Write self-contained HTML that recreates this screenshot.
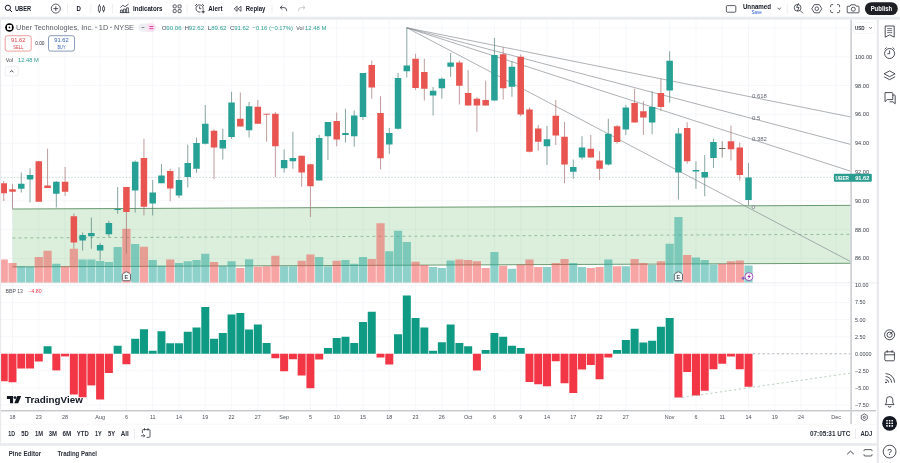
<!DOCTYPE html>
<html lang="en"><head><meta charset="utf-8"><title>UBER chart</title>
<style>
html,body{margin:0;padding:0;background:#fff;}
body{width:900px;height:463px;overflow:hidden;font-family:"Liberation Sans", sans-serif;}
</style></head>
<body>
<svg width="900" height="463" viewBox="0 0 900 463" font-family='"Liberation Sans", sans-serif' style="display:block">
<rect x="0" y="0" width="900" height="463" fill="#ffffff"/>
<g id="chart">
<line x1="1" x2="851" y1="27.92" y2="27.92" stroke="#f0f2f6" stroke-width="0.6"/>
<line x1="1" x2="851" y1="56.74" y2="56.74" stroke="#f0f2f6" stroke-width="0.6"/>
<line x1="1" x2="851" y1="85.56" y2="85.56" stroke="#f0f2f6" stroke-width="0.6"/>
<line x1="1" x2="851" y1="114.38" y2="114.38" stroke="#f0f2f6" stroke-width="0.6"/>
<line x1="1" x2="851" y1="143.20" y2="143.20" stroke="#f0f2f6" stroke-width="0.6"/>
<line x1="1" x2="851" y1="172.02" y2="172.02" stroke="#f0f2f6" stroke-width="0.6"/>
<line x1="1" x2="851" y1="200.84" y2="200.84" stroke="#f0f2f6" stroke-width="0.6"/>
<line x1="1" x2="851" y1="229.66" y2="229.66" stroke="#f0f2f6" stroke-width="0.6"/>
<line x1="1" x2="851" y1="258.48" y2="258.48" stroke="#f0f2f6" stroke-width="0.6"/>
<line x1="1" x2="851" y1="285.50" y2="285.50" stroke="#f0f2f6" stroke-width="0.6"/>
<line x1="1" x2="851" y1="302.56" y2="302.56" stroke="#f0f2f6" stroke-width="0.6"/>
<line x1="1" x2="851" y1="319.62" y2="319.62" stroke="#f0f2f6" stroke-width="0.6"/>
<line x1="1" x2="851" y1="336.69" y2="336.69" stroke="#f0f2f6" stroke-width="0.6"/>
<line x1="1" x2="851" y1="353.75" y2="353.75" stroke="#f0f2f6" stroke-width="0.6"/>
<line x1="1" x2="851" y1="370.81" y2="370.81" stroke="#f0f2f6" stroke-width="0.6"/>
<line x1="1" x2="851" y1="387.88" y2="387.88" stroke="#f0f2f6" stroke-width="0.6"/>
<line x1="1" x2="851" y1="404.94" y2="404.94" stroke="#f0f2f6" stroke-width="0.6"/>
<line x1="12.512" x2="12.512" y1="19.5" y2="410.7" stroke="#f0f2f6" stroke-width="0.6"/>
<line x1="38.798" x2="38.798" y1="19.5" y2="410.7" stroke="#f0f2f6" stroke-width="0.6"/>
<line x1="65.084" x2="65.084" y1="19.5" y2="410.7" stroke="#f0f2f6" stroke-width="0.6"/>
<line x1="100.132" x2="100.132" y1="19.5" y2="410.7" stroke="#f0f2f6" stroke-width="0.6"/>
<line x1="126.418" x2="126.418" y1="19.5" y2="410.7" stroke="#f0f2f6" stroke-width="0.6"/>
<line x1="152.704" x2="152.704" y1="19.5" y2="410.7" stroke="#f0f2f6" stroke-width="0.6"/>
<line x1="178.99" x2="178.99" y1="19.5" y2="410.7" stroke="#f0f2f6" stroke-width="0.6"/>
<line x1="205.276" x2="205.276" y1="19.5" y2="410.7" stroke="#f0f2f6" stroke-width="0.6"/>
<line x1="231.562" x2="231.562" y1="19.5" y2="410.7" stroke="#f0f2f6" stroke-width="0.6"/>
<line x1="257.848" x2="257.848" y1="19.5" y2="410.7" stroke="#f0f2f6" stroke-width="0.6"/>
<line x1="284.134" x2="284.134" y1="19.5" y2="410.7" stroke="#f0f2f6" stroke-width="0.6"/>
<line x1="310.42" x2="310.42" y1="19.5" y2="410.7" stroke="#f0f2f6" stroke-width="0.6"/>
<line x1="336.706" x2="336.706" y1="19.5" y2="410.7" stroke="#f0f2f6" stroke-width="0.6"/>
<line x1="362.992" x2="362.992" y1="19.5" y2="410.7" stroke="#f0f2f6" stroke-width="0.6"/>
<line x1="389.278" x2="389.278" y1="19.5" y2="410.7" stroke="#f0f2f6" stroke-width="0.6"/>
<line x1="415.564" x2="415.564" y1="19.5" y2="410.7" stroke="#f0f2f6" stroke-width="0.6"/>
<line x1="441.85" x2="441.85" y1="19.5" y2="410.7" stroke="#f0f2f6" stroke-width="0.6"/>
<line x1="468.136" x2="468.136" y1="19.5" y2="410.7" stroke="#f0f2f6" stroke-width="0.6"/>
<line x1="494.422" x2="494.422" y1="19.5" y2="410.7" stroke="#f0f2f6" stroke-width="0.6"/>
<line x1="520.7080000000001" x2="520.7080000000001" y1="19.5" y2="410.7" stroke="#f0f2f6" stroke-width="0.6"/>
<line x1="546.994" x2="546.994" y1="19.5" y2="410.7" stroke="#f0f2f6" stroke-width="0.6"/>
<line x1="573.28" x2="573.28" y1="19.5" y2="410.7" stroke="#f0f2f6" stroke-width="0.6"/>
<line x1="599.566" x2="599.566" y1="19.5" y2="410.7" stroke="#f0f2f6" stroke-width="0.6"/>
<line x1="625.8520000000001" x2="625.8520000000001" y1="19.5" y2="410.7" stroke="#f0f2f6" stroke-width="0.6"/>
<line x1="669.662" x2="669.662" y1="19.5" y2="410.7" stroke="#f0f2f6" stroke-width="0.6"/>
<line x1="695.9480000000001" x2="695.9480000000001" y1="19.5" y2="410.7" stroke="#f0f2f6" stroke-width="0.6"/>
<line x1="722.234" x2="722.234" y1="19.5" y2="410.7" stroke="#f0f2f6" stroke-width="0.6"/>
<line x1="748.52" x2="748.52" y1="19.5" y2="410.7" stroke="#f0f2f6" stroke-width="0.6"/>
<line x1="774.806" x2="774.806" y1="19.5" y2="410.7" stroke="#f0f2f6" stroke-width="0.6"/>
<line x1="801.0920000000001" x2="801.0920000000001" y1="19.5" y2="410.7" stroke="#f0f2f6" stroke-width="0.6"/>
<line x1="836.1400000000001" x2="836.1400000000001" y1="19.5" y2="410.7" stroke="#f0f2f6" stroke-width="0.6"/>
<polygon points="12.5,209.0 851,205.35 851,263.25 12.5,266.9" fill="#4caf50" fill-opacity="0.2"/>
<line x1="12.5" y1="209.0" x2="851" y2="205.35" stroke="#5c8f63" stroke-width="0.9"/>
<line x1="12.5" y1="266.9" x2="851" y2="263.25" stroke="#5c8f63" stroke-width="0.9"/>
<line x1="12.5" y1="237.95" x2="851" y2="234.3" stroke="#7fae84" stroke-width="0.8" stroke-dasharray="2.8 3.2"/>
<rect x="-0.35" y="259.5" width="8.2" height="23.30" fill="#ef5350" fill-opacity="0.52"/>
<rect x="8.41" y="263" width="8.2" height="19.80" fill="#ef5350" fill-opacity="0.52"/>
<rect x="17.17" y="266.25" width="8.2" height="16.55" fill="#26a69a" fill-opacity="0.52"/>
<rect x="25.94" y="266.75" width="8.2" height="16.05" fill="#26a69a" fill-opacity="0.52"/>
<rect x="34.70" y="257" width="8.2" height="25.80" fill="#ef5350" fill-opacity="0.52"/>
<rect x="43.46" y="250.75" width="8.2" height="32.05" fill="#ef5350" fill-opacity="0.52"/>
<rect x="52.22" y="263.75" width="8.2" height="19.05" fill="#26a69a" fill-opacity="0.52"/>
<rect x="60.98" y="266.25" width="8.2" height="16.55" fill="#ef5350" fill-opacity="0.52"/>
<rect x="69.75" y="248.75" width="8.2" height="34.05" fill="#ef5350" fill-opacity="0.52"/>
<rect x="78.51" y="259.5" width="8.2" height="23.30" fill="#26a69a" fill-opacity="0.52"/>
<rect x="87.27" y="259.5" width="8.2" height="23.30" fill="#26a69a" fill-opacity="0.52"/>
<rect x="96.03" y="261" width="8.2" height="21.80" fill="#26a69a" fill-opacity="0.52"/>
<rect x="104.79" y="262" width="8.2" height="20.80" fill="#26a69a" fill-opacity="0.52"/>
<rect x="113.56" y="247" width="8.2" height="35.80" fill="#26a69a" fill-opacity="0.52"/>
<rect x="122.32" y="228.75" width="8.2" height="54.05" fill="#ef5350" fill-opacity="0.52"/>
<rect x="131.08" y="244" width="8.2" height="38.80" fill="#26a69a" fill-opacity="0.52"/>
<rect x="139.84" y="246.75" width="8.2" height="36.05" fill="#ef5350" fill-opacity="0.52"/>
<rect x="148.60" y="260" width="8.2" height="22.80" fill="#26a69a" fill-opacity="0.52"/>
<rect x="157.37" y="265.75" width="8.2" height="17.05" fill="#26a69a" fill-opacity="0.52"/>
<rect x="166.13" y="259.5" width="8.2" height="23.30" fill="#ef5350" fill-opacity="0.52"/>
<rect x="174.89" y="263" width="8.2" height="19.80" fill="#26a69a" fill-opacity="0.52"/>
<rect x="183.65" y="261.25" width="8.2" height="21.55" fill="#26a69a" fill-opacity="0.52"/>
<rect x="192.41" y="260" width="8.2" height="22.80" fill="#26a69a" fill-opacity="0.52"/>
<rect x="201.18" y="253.75" width="8.2" height="29.05" fill="#26a69a" fill-opacity="0.52"/>
<rect x="209.94" y="262" width="8.2" height="20.80" fill="#ef5350" fill-opacity="0.52"/>
<rect x="218.70" y="265.75" width="8.2" height="17.05" fill="#26a69a" fill-opacity="0.52"/>
<rect x="227.46" y="261.25" width="8.2" height="21.55" fill="#26a69a" fill-opacity="0.52"/>
<rect x="236.22" y="268" width="8.2" height="14.80" fill="#ef5350" fill-opacity="0.52"/>
<rect x="244.99" y="259.25" width="8.2" height="23.55" fill="#26a69a" fill-opacity="0.52"/>
<rect x="253.75" y="266.75" width="8.2" height="16.05" fill="#ef5350" fill-opacity="0.52"/>
<rect x="262.51" y="266.25" width="8.2" height="16.55" fill="#ef5350" fill-opacity="0.52"/>
<rect x="271.27" y="255.75" width="8.2" height="27.05" fill="#ef5350" fill-opacity="0.52"/>
<rect x="280.03" y="266.25" width="8.2" height="16.55" fill="#26a69a" fill-opacity="0.52"/>
<rect x="288.80" y="266.25" width="8.2" height="16.55" fill="#26a69a" fill-opacity="0.52"/>
<rect x="297.56" y="260.75" width="8.2" height="22.05" fill="#ef5350" fill-opacity="0.52"/>
<rect x="306.32" y="254.5" width="8.2" height="28.30" fill="#ef5350" fill-opacity="0.52"/>
<rect x="315.08" y="257" width="8.2" height="25.80" fill="#26a69a" fill-opacity="0.52"/>
<rect x="323.84" y="266.25" width="8.2" height="16.55" fill="#26a69a" fill-opacity="0.52"/>
<rect x="332.61" y="260.75" width="8.2" height="22.05" fill="#ef5350" fill-opacity="0.52"/>
<rect x="341.37" y="260" width="8.2" height="22.80" fill="#26a69a" fill-opacity="0.52"/>
<rect x="350.13" y="263.75" width="8.2" height="19.05" fill="#26a69a" fill-opacity="0.52"/>
<rect x="358.89" y="257" width="8.2" height="25.80" fill="#26a69a" fill-opacity="0.52"/>
<rect x="367.65" y="259" width="8.2" height="23.80" fill="#ef5350" fill-opacity="0.52"/>
<rect x="376.42" y="223.25" width="8.2" height="59.55" fill="#ef5350" fill-opacity="0.52"/>
<rect x="385.18" y="251.25" width="8.2" height="31.55" fill="#26a69a" fill-opacity="0.52"/>
<rect x="393.94" y="230.75" width="8.2" height="52.05" fill="#26a69a" fill-opacity="0.52"/>
<rect x="402.70" y="242" width="8.2" height="40.80" fill="#26a69a" fill-opacity="0.52"/>
<rect x="411.46" y="261.75" width="8.2" height="21.05" fill="#ef5350" fill-opacity="0.52"/>
<rect x="420.23" y="265" width="8.2" height="17.80" fill="#ef5350" fill-opacity="0.52"/>
<rect x="428.99" y="267" width="8.2" height="15.80" fill="#26a69a" fill-opacity="0.52"/>
<rect x="437.75" y="268" width="8.2" height="14.80" fill="#26a69a" fill-opacity="0.52"/>
<rect x="446.51" y="260.5" width="8.2" height="22.30" fill="#26a69a" fill-opacity="0.52"/>
<rect x="455.27" y="259.5" width="8.2" height="23.30" fill="#ef5350" fill-opacity="0.52"/>
<rect x="464.04" y="260" width="8.2" height="22.80" fill="#ef5350" fill-opacity="0.52"/>
<rect x="472.80" y="261.25" width="8.2" height="21.55" fill="#ef5350" fill-opacity="0.52"/>
<rect x="481.56" y="268" width="8.2" height="14.80" fill="#ef5350" fill-opacity="0.52"/>
<rect x="490.32" y="252" width="8.2" height="30.80" fill="#26a69a" fill-opacity="0.52"/>
<rect x="499.08" y="265.75" width="8.2" height="17.05" fill="#ef5350" fill-opacity="0.52"/>
<rect x="507.85" y="268.75" width="8.2" height="14.05" fill="#26a69a" fill-opacity="0.52"/>
<rect x="516.61" y="264.5" width="8.2" height="18.30" fill="#ef5350" fill-opacity="0.52"/>
<rect x="525.37" y="259.5" width="8.2" height="23.30" fill="#ef5350" fill-opacity="0.52"/>
<rect x="534.13" y="267" width="8.2" height="15.80" fill="#ef5350" fill-opacity="0.52"/>
<rect x="542.89" y="267" width="8.2" height="15.80" fill="#26a69a" fill-opacity="0.52"/>
<rect x="551.66" y="263" width="8.2" height="19.80" fill="#ef5350" fill-opacity="0.52"/>
<rect x="560.42" y="259" width="8.2" height="23.80" fill="#ef5350" fill-opacity="0.52"/>
<rect x="569.18" y="263" width="8.2" height="19.80" fill="#26a69a" fill-opacity="0.52"/>
<rect x="577.94" y="267" width="8.2" height="15.80" fill="#26a69a" fill-opacity="0.52"/>
<rect x="586.70" y="268" width="8.2" height="14.80" fill="#ef5350" fill-opacity="0.52"/>
<rect x="595.47" y="267" width="8.2" height="15.80" fill="#ef5350" fill-opacity="0.52"/>
<rect x="604.23" y="259.5" width="8.2" height="23.30" fill="#26a69a" fill-opacity="0.52"/>
<rect x="612.99" y="266.25" width="8.2" height="16.55" fill="#ef5350" fill-opacity="0.52"/>
<rect x="621.75" y="266.25" width="8.2" height="16.55" fill="#26a69a" fill-opacity="0.52"/>
<rect x="630.51" y="259" width="8.2" height="23.80" fill="#ef5350" fill-opacity="0.52"/>
<rect x="639.28" y="263" width="8.2" height="19.80" fill="#ef5350" fill-opacity="0.52"/>
<rect x="648.04" y="265" width="8.2" height="17.80" fill="#26a69a" fill-opacity="0.52"/>
<rect x="656.80" y="261.25" width="8.2" height="21.55" fill="#ef5350" fill-opacity="0.52"/>
<rect x="665.56" y="243.75" width="8.2" height="39.05" fill="#26a69a" fill-opacity="0.52"/>
<rect x="674.32" y="217" width="8.2" height="65.80" fill="#26a69a" fill-opacity="0.52"/>
<rect x="683.09" y="255" width="8.2" height="27.80" fill="#ef5350" fill-opacity="0.52"/>
<rect x="691.85" y="257.5" width="8.2" height="25.30" fill="#26a69a" fill-opacity="0.52"/>
<rect x="700.61" y="260" width="8.2" height="22.80" fill="#26a69a" fill-opacity="0.52"/>
<rect x="709.37" y="264.5" width="8.2" height="18.30" fill="#26a69a" fill-opacity="0.52"/>
<rect x="718.13" y="263.75" width="8.2" height="19.05" fill="#ef5350" fill-opacity="0.52"/>
<rect x="726.90" y="261.25" width="8.2" height="21.55" fill="#ef5350" fill-opacity="0.52"/>
<rect x="735.66" y="260.5" width="8.2" height="22.30" fill="#ef5350" fill-opacity="0.52"/>
<rect x="744.42" y="265.5" width="8.2" height="17.30" fill="#26a69a" fill-opacity="0.52"/>
<line x1="1" x2="851" y1="177.4" y2="177.4" stroke="#a3bdba" stroke-width="0.7" stroke-dasharray="1.3 1.9"/>
<line x1="406.9" y1="27.8" x2="851" y2="117.0" stroke="#82868d" stroke-width="0.65"/>
<line x1="406.9" y1="27.8" x2="851" y2="144.5" stroke="#82868d" stroke-width="0.65"/>
<line x1="406.9" y1="27.8" x2="851" y2="171.3" stroke="#82868d" stroke-width="0.65"/>
<line x1="406.9" y1="27.8" x2="851" y2="261.8" stroke="#82868d" stroke-width="0.65"/>
<text x="751.9" y="98.43" font-size="6" font-weight="normal" fill="#62656f" text-anchor="start" >0.618</text>
<text x="751.9" y="119.93" font-size="6" font-weight="normal" fill="#62656f" text-anchor="start" >0.5</text>
<text x="751.9" y="140.73" font-size="6" font-weight="normal" fill="#62656f" text-anchor="start" >0.382</text>
<circle cx="753.4" cy="207.2" r="1.35" fill="#fff" stroke="#50535e" stroke-width="0.6"/>
<line x1="3.75" x2="3.75" y1="181.0" y2="201.0" stroke="#a57371" stroke-width="0.7"/>
<rect x="0.50" y="183.25" width="6.5" height="10.00" fill="#e85450"/>
<line x1="12.512" x2="12.512" y1="183.75" y2="208.75" stroke="#a57371" stroke-width="0.7"/>
<rect x="9.26" y="189.25" width="6.5" height="2.50" fill="#e85450"/>
<line x1="21.274" x2="21.274" y1="172.5" y2="192.5" stroke="#557f7a" stroke-width="0.7"/>
<rect x="18.02" y="183.75" width="6.5" height="5.00" fill="#27a195"/>
<line x1="30.036" x2="30.036" y1="168.25" y2="202.5" stroke="#557f7a" stroke-width="0.7"/>
<rect x="26.79" y="175.0" width="6.5" height="4.50" fill="#27a195"/>
<line x1="38.798" x2="38.798" y1="161.25" y2="201.75" stroke="#a57371" stroke-width="0.7"/>
<rect x="35.55" y="161.25" width="6.5" height="40.50" fill="#e85450"/>
<line x1="47.56" x2="47.56" y1="148.75" y2="188.0" stroke="#a57371" stroke-width="0.7"/>
<rect x="44.31" y="185.5" width="6.5" height="2.50" fill="#e85450"/>
<line x1="56.322" x2="56.322" y1="181.0" y2="207.5" stroke="#557f7a" stroke-width="0.7"/>
<rect x="53.07" y="181.75" width="6.5" height="12.00" fill="#27a195"/>
<line x1="65.084" x2="65.084" y1="167.0" y2="196.0" stroke="#a57371" stroke-width="0.7"/>
<rect x="61.83" y="181.75" width="6.5" height="10.00" fill="#e85450"/>
<line x1="73.846" x2="73.846" y1="213.5" y2="248.75" stroke="#a57371" stroke-width="0.7"/>
<rect x="70.60" y="216.25" width="6.5" height="26.25" fill="#e85450"/>
<line x1="82.608" x2="82.608" y1="232.5" y2="250.5" stroke="#557f7a" stroke-width="0.7"/>
<rect x="79.36" y="235.0" width="6.5" height="5.50" fill="#27a195"/>
<line x1="91.37" x2="91.37" y1="217.5" y2="248.75" stroke="#557f7a" stroke-width="0.7"/>
<rect x="88.12" y="233.0" width="6.5" height="3.25" fill="#27a195"/>
<line x1="100.132" x2="100.132" y1="243.0" y2="260.5" stroke="#557f7a" stroke-width="0.7"/>
<rect x="96.88" y="245.0" width="6.5" height="5.50" fill="#27a195"/>
<line x1="108.894" x2="108.894" y1="220.75" y2="237.0" stroke="#557f7a" stroke-width="0.7"/>
<rect x="105.64" y="223.0" width="6.5" height="11.25" fill="#27a195"/>
<line x1="117.656" x2="117.656" y1="187.0" y2="213.75" stroke="#557f7a" stroke-width="0.7"/>
<rect x="114.41" y="209.0" width="6.5" height="1.00" fill="#27a195"/>
<line x1="126.418" x2="126.418" y1="187.0" y2="253.75" stroke="#a57371" stroke-width="0.7"/>
<rect x="123.17" y="187.0" width="6.5" height="25.00" fill="#e85450"/>
<line x1="135.18" x2="135.18" y1="160.5" y2="212.5" stroke="#557f7a" stroke-width="0.7"/>
<rect x="131.93" y="161.75" width="6.5" height="28.75" fill="#27a195"/>
<line x1="143.942" x2="143.942" y1="138.75" y2="215.5" stroke="#a57371" stroke-width="0.7"/>
<rect x="140.69" y="158.0" width="6.5" height="48.75" fill="#e85450"/>
<line x1="152.704" x2="152.704" y1="180.0" y2="215.5" stroke="#557f7a" stroke-width="0.7"/>
<rect x="149.45" y="192.5" width="6.5" height="11.00" fill="#27a195"/>
<line x1="161.466" x2="161.466" y1="164.0" y2="183.25" stroke="#557f7a" stroke-width="0.7"/>
<rect x="158.22" y="175.5" width="6.5" height="7.75" fill="#27a195"/>
<line x1="170.228" x2="170.228" y1="168.75" y2="201.25" stroke="#a57371" stroke-width="0.7"/>
<rect x="166.98" y="171.0" width="6.5" height="17.50" fill="#e85450"/>
<line x1="178.99" x2="178.99" y1="167.25" y2="198.0" stroke="#557f7a" stroke-width="0.7"/>
<rect x="175.74" y="180.0" width="6.5" height="15.50" fill="#27a195"/>
<line x1="187.752" x2="187.752" y1="144.75" y2="187.5" stroke="#557f7a" stroke-width="0.7"/>
<rect x="184.50" y="163.0" width="6.5" height="14.00" fill="#27a195"/>
<line x1="196.514" x2="196.514" y1="137.5" y2="172.75" stroke="#557f7a" stroke-width="0.7"/>
<rect x="193.26" y="143.0" width="6.5" height="25.75" fill="#27a195"/>
<line x1="205.276" x2="205.276" y1="105.0" y2="144.5" stroke="#557f7a" stroke-width="0.7"/>
<rect x="202.03" y="123.75" width="6.5" height="20.00" fill="#27a195"/>
<line x1="214.038" x2="214.038" y1="129.25" y2="179.25" stroke="#a57371" stroke-width="0.7"/>
<rect x="210.79" y="130.75" width="6.5" height="16.75" fill="#e85450"/>
<line x1="222.8" x2="222.8" y1="128.75" y2="159.5" stroke="#557f7a" stroke-width="0.7"/>
<rect x="219.55" y="140.0" width="6.5" height="8.50" fill="#27a195"/>
<line x1="231.562" x2="231.562" y1="91.75" y2="138.75" stroke="#557f7a" stroke-width="0.7"/>
<rect x="228.31" y="102.5" width="6.5" height="34.50" fill="#27a195"/>
<line x1="240.324" x2="240.324" y1="92.5" y2="126.5" stroke="#a57371" stroke-width="0.7"/>
<rect x="237.07" y="118.75" width="6.5" height="7.75" fill="#e85450"/>
<line x1="249.086" x2="249.086" y1="102.0" y2="137.5" stroke="#557f7a" stroke-width="0.7"/>
<rect x="245.84" y="106.25" width="6.5" height="24.00" fill="#27a195"/>
<line x1="257.848" x2="257.848" y1="100.0" y2="123.75" stroke="#a57371" stroke-width="0.7"/>
<rect x="254.60" y="106.75" width="6.5" height="17.00" fill="#e85450"/>
<line x1="266.61" x2="266.61" y1="113.75" y2="141.75" stroke="#a57371" stroke-width="0.7"/>
<rect x="263.36" y="113.75" width="6.5" height="0.90" fill="#e85450"/>
<line x1="275.372" x2="275.372" y1="112.0" y2="177.0" stroke="#a57371" stroke-width="0.7"/>
<rect x="272.12" y="113.75" width="6.5" height="32.50" fill="#e85450"/>
<line x1="284.134" x2="284.134" y1="149.5" y2="172.5" stroke="#557f7a" stroke-width="0.7"/>
<rect x="280.88" y="160.0" width="6.5" height="8.25" fill="#27a195"/>
<line x1="292.896" x2="292.896" y1="131.75" y2="168.75" stroke="#557f7a" stroke-width="0.7"/>
<rect x="289.65" y="158.0" width="6.5" height="3.25" fill="#27a195"/>
<line x1="301.658" x2="301.658" y1="155.75" y2="186.75" stroke="#a57371" stroke-width="0.7"/>
<rect x="298.41" y="155.75" width="6.5" height="16.75" fill="#e85450"/>
<line x1="310.42" x2="310.42" y1="163.75" y2="217.0" stroke="#a57371" stroke-width="0.7"/>
<rect x="307.17" y="164.25" width="6.5" height="22.00" fill="#e85450"/>
<line x1="319.182" x2="319.182" y1="134.75" y2="180.5" stroke="#557f7a" stroke-width="0.7"/>
<rect x="315.93" y="138.0" width="6.5" height="42.50" fill="#27a195"/>
<line x1="327.944" x2="327.944" y1="122.0" y2="160.0" stroke="#557f7a" stroke-width="0.7"/>
<rect x="324.69" y="122.0" width="6.5" height="14.25" fill="#27a195"/>
<line x1="336.706" x2="336.706" y1="112.5" y2="146.25" stroke="#a57371" stroke-width="0.7"/>
<rect x="333.46" y="121.0" width="6.5" height="18.50" fill="#e85450"/>
<line x1="345.468" x2="345.468" y1="108.75" y2="142.5" stroke="#557f7a" stroke-width="0.7"/>
<rect x="342.22" y="133.0" width="6.5" height="2.00" fill="#27a195"/>
<line x1="354.23" x2="354.23" y1="110.5" y2="146.75" stroke="#557f7a" stroke-width="0.7"/>
<rect x="350.98" y="115.5" width="6.5" height="20.75" fill="#27a195"/>
<line x1="362.992" x2="362.992" y1="73.0" y2="120.0" stroke="#557f7a" stroke-width="0.7"/>
<rect x="359.74" y="73.0" width="6.5" height="44.00" fill="#27a195"/>
<line x1="371.754" x2="371.754" y1="60.5" y2="98.75" stroke="#a57371" stroke-width="0.7"/>
<rect x="368.50" y="65.0" width="6.5" height="22.50" fill="#e85450"/>
<line x1="380.516" x2="380.516" y1="96.25" y2="169.5" stroke="#a57371" stroke-width="0.7"/>
<rect x="377.27" y="113.0" width="6.5" height="45.25" fill="#e85450"/>
<line x1="389.278" x2="389.278" y1="128.0" y2="153.75" stroke="#557f7a" stroke-width="0.7"/>
<rect x="386.03" y="133.0" width="6.5" height="11.50" fill="#27a195"/>
<line x1="398.04" x2="398.04" y1="73.0" y2="129.5" stroke="#557f7a" stroke-width="0.7"/>
<rect x="394.79" y="78.0" width="6.5" height="50.75" fill="#27a195"/>
<line x1="406.802" x2="406.802" y1="27.5" y2="77.5" stroke="#557f7a" stroke-width="0.7"/>
<rect x="403.55" y="65.5" width="6.5" height="5.75" fill="#27a195"/>
<line x1="415.564" x2="415.564" y1="53.75" y2="90.0" stroke="#a57371" stroke-width="0.7"/>
<rect x="412.31" y="58.75" width="6.5" height="29.25" fill="#e85450"/>
<line x1="424.326" x2="424.326" y1="58.75" y2="100.5" stroke="#a57371" stroke-width="0.7"/>
<rect x="421.08" y="72.0" width="6.5" height="16.75" fill="#e85450"/>
<line x1="433.088" x2="433.088" y1="87.0" y2="115.5" stroke="#557f7a" stroke-width="0.7"/>
<rect x="429.84" y="90.75" width="6.5" height="4.75" fill="#27a195"/>
<line x1="441.85" x2="441.85" y1="77.5" y2="98.75" stroke="#557f7a" stroke-width="0.7"/>
<rect x="438.60" y="78.75" width="6.5" height="9.50" fill="#27a195"/>
<line x1="450.612" x2="450.612" y1="53.0" y2="76.75" stroke="#557f7a" stroke-width="0.7"/>
<rect x="447.36" y="62.5" width="6.5" height="4.25" fill="#27a195"/>
<line x1="459.374" x2="459.374" y1="60.5" y2="104.5" stroke="#a57371" stroke-width="0.7"/>
<rect x="456.12" y="62.5" width="6.5" height="23.25" fill="#e85450"/>
<line x1="468.136" x2="468.136" y1="70.0" y2="105.5" stroke="#a57371" stroke-width="0.7"/>
<rect x="464.89" y="93.0" width="6.5" height="12.50" fill="#e85450"/>
<line x1="476.898" x2="476.898" y1="97.0" y2="131.75" stroke="#a57371" stroke-width="0.7"/>
<rect x="473.65" y="98.75" width="6.5" height="6.75" fill="#e85450"/>
<line x1="485.66" x2="485.66" y1="80.75" y2="105.5" stroke="#a57371" stroke-width="0.7"/>
<rect x="482.41" y="100.0" width="6.5" height="5.50" fill="#e85450"/>
<line x1="494.422" x2="494.422" y1="38.0" y2="100.5" stroke="#557f7a" stroke-width="0.7"/>
<rect x="491.17" y="55.0" width="6.5" height="45.50" fill="#27a195"/>
<line x1="503.184" x2="503.184" y1="47.0" y2="99.5" stroke="#a57371" stroke-width="0.7"/>
<rect x="499.93" y="54.25" width="6.5" height="34.00" fill="#e85450"/>
<line x1="511.946" x2="511.946" y1="61.25" y2="96.75" stroke="#557f7a" stroke-width="0.7"/>
<rect x="508.70" y="66.75" width="6.5" height="20.00" fill="#27a195"/>
<line x1="520.7080000000001" x2="520.7080000000001" y1="54.5" y2="116.25" stroke="#a57371" stroke-width="0.7"/>
<rect x="517.46" y="56.75" width="6.5" height="57.75" fill="#e85450"/>
<line x1="529.47" x2="529.47" y1="107.5" y2="152.5" stroke="#a57371" stroke-width="0.7"/>
<rect x="526.22" y="109.5" width="6.5" height="42.25" fill="#e85450"/>
<line x1="538.232" x2="538.232" y1="125.0" y2="150.75" stroke="#a57371" stroke-width="0.7"/>
<rect x="534.98" y="128.5" width="6.5" height="13.25" fill="#e85450"/>
<line x1="546.994" x2="546.994" y1="126.0" y2="165.0" stroke="#557f7a" stroke-width="0.7"/>
<rect x="543.74" y="139.25" width="6.5" height="7.00" fill="#27a195"/>
<line x1="555.7560000000001" x2="555.7560000000001" y1="100.0" y2="145.0" stroke="#a57371" stroke-width="0.7"/>
<rect x="552.51" y="115.75" width="6.5" height="19.75" fill="#e85450"/>
<line x1="564.518" x2="564.518" y1="122.0" y2="183.25" stroke="#a57371" stroke-width="0.7"/>
<rect x="561.27" y="136.75" width="6.5" height="27.75" fill="#e85450"/>
<line x1="573.28" x2="573.28" y1="159.5" y2="178.75" stroke="#557f7a" stroke-width="0.7"/>
<rect x="570.03" y="167.0" width="6.5" height="4.75" fill="#27a195"/>
<line x1="582.042" x2="582.042" y1="136.25" y2="159.5" stroke="#557f7a" stroke-width="0.7"/>
<rect x="578.79" y="147.5" width="6.5" height="10.00" fill="#27a195"/>
<line x1="590.8040000000001" x2="590.8040000000001" y1="135.0" y2="157.5" stroke="#a57371" stroke-width="0.7"/>
<rect x="587.55" y="148.75" width="6.5" height="8.75" fill="#e85450"/>
<line x1="599.566" x2="599.566" y1="151.25" y2="180.0" stroke="#a57371" stroke-width="0.7"/>
<rect x="596.32" y="160.5" width="6.5" height="8.25" fill="#e85450"/>
<line x1="608.328" x2="608.328" y1="118.75" y2="165.5" stroke="#557f7a" stroke-width="0.7"/>
<rect x="605.08" y="133.75" width="6.5" height="30.75" fill="#27a195"/>
<line x1="617.09" x2="617.09" y1="125.0" y2="143.75" stroke="#a57371" stroke-width="0.7"/>
<rect x="613.84" y="126.25" width="6.5" height="15.75" fill="#e85450"/>
<line x1="625.8520000000001" x2="625.8520000000001" y1="105.0" y2="135.0" stroke="#557f7a" stroke-width="0.7"/>
<rect x="622.60" y="107.5" width="6.5" height="22.00" fill="#27a195"/>
<line x1="634.614" x2="634.614" y1="88.75" y2="122.5" stroke="#a57371" stroke-width="0.7"/>
<rect x="631.36" y="103.0" width="6.5" height="19.50" fill="#e85450"/>
<line x1="643.376" x2="643.376" y1="101.25" y2="135.0" stroke="#a57371" stroke-width="0.7"/>
<rect x="640.13" y="111.25" width="6.5" height="6.25" fill="#e85450"/>
<line x1="652.138" x2="652.138" y1="91.25" y2="134.25" stroke="#557f7a" stroke-width="0.7"/>
<rect x="648.89" y="107.0" width="6.5" height="15.50" fill="#27a195"/>
<line x1="660.9000000000001" x2="660.9000000000001" y1="78.75" y2="110.5" stroke="#a57371" stroke-width="0.7"/>
<rect x="657.65" y="93.0" width="6.5" height="14.00" fill="#e85450"/>
<line x1="669.662" x2="669.662" y1="51.25" y2="102.5" stroke="#557f7a" stroke-width="0.7"/>
<rect x="666.41" y="60.75" width="6.5" height="29.75" fill="#27a195"/>
<line x1="678.424" x2="678.424" y1="128.0" y2="199.5" stroke="#557f7a" stroke-width="0.7"/>
<rect x="675.17" y="133.5" width="6.5" height="39.00" fill="#27a195"/>
<line x1="687.186" x2="687.186" y1="122.25" y2="163.75" stroke="#a57371" stroke-width="0.7"/>
<rect x="683.94" y="128.0" width="6.5" height="33.25" fill="#e85450"/>
<line x1="695.9480000000001" x2="695.9480000000001" y1="161.25" y2="188.75" stroke="#557f7a" stroke-width="0.7"/>
<rect x="692.70" y="170.0" width="6.5" height="1.50" fill="#27a195"/>
<line x1="704.71" x2="704.71" y1="155.0" y2="196.25" stroke="#557f7a" stroke-width="0.7"/>
<rect x="701.46" y="172.0" width="6.5" height="5.50" fill="#27a195"/>
<line x1="713.472" x2="713.472" y1="138.75" y2="168.0" stroke="#557f7a" stroke-width="0.7"/>
<rect x="710.22" y="142.0" width="6.5" height="16.00" fill="#27a195"/>
<line x1="722.234" x2="722.234" y1="141.25" y2="157.5" stroke="#6e6454" stroke-width="0.7"/>
<rect x="718.98" y="148.0" width="6.5" height="0.90" fill="#5e564a"/>
<line x1="730.9960000000001" x2="730.9960000000001" y1="125.5" y2="160.5" stroke="#a57371" stroke-width="0.7"/>
<rect x="727.75" y="141.25" width="6.5" height="8.00" fill="#e85450"/>
<line x1="739.758" x2="739.758" y1="142.5" y2="180.75" stroke="#a57371" stroke-width="0.7"/>
<rect x="736.51" y="147.5" width="6.5" height="27.50" fill="#e85450"/>
<line x1="748.52" x2="748.52" y1="163.0" y2="205.0" stroke="#557f7a" stroke-width="0.7"/>
<rect x="745.27" y="177.5" width="6.5" height="22.50" fill="#27a195"/>
<line x1="1" x2="877" y1="282.9" y2="282.9" stroke="#e3e4e8" stroke-width="0.7"/>
<rect x="-0.30" y="353.75" width="8.1" height="27.50" fill="#f23645"/>
<rect x="8.46" y="353.75" width="8.1" height="28.50" fill="#f23645"/>
<rect x="17.22" y="353.75" width="8.1" height="14.75" fill="#f23645"/>
<rect x="25.99" y="353.75" width="8.1" height="14.75" fill="#f23645"/>
<rect x="34.75" y="353.75" width="8.1" height="7.75" fill="#f23645"/>
<rect x="43.51" y="346.25" width="8.1" height="7.50" fill="#0f9a84"/>
<rect x="52.27" y="353.75" width="8.1" height="16.65" fill="#f23645"/>
<rect x="61.03" y="353.75" width="8.1" height="2.65" fill="#f23645"/>
<rect x="69.80" y="353.75" width="8.1" height="40.75" fill="#f23645"/>
<rect x="78.56" y="353.75" width="8.1" height="43.50" fill="#f23645"/>
<rect x="87.32" y="353.75" width="8.1" height="31.65" fill="#f23645"/>
<rect x="96.08" y="353.75" width="8.1" height="45.75" fill="#f23645"/>
<rect x="104.84" y="353.75" width="8.1" height="19.25" fill="#f23645"/>
<rect x="113.61" y="345.75" width="8.1" height="8.00" fill="#0f9a84"/>
<rect x="122.37" y="353.75" width="8.1" height="10.50" fill="#f23645"/>
<rect x="131.13" y="338.75" width="8.1" height="15.00" fill="#0f9a84"/>
<rect x="139.89" y="329.25" width="8.1" height="24.50" fill="#0f9a84"/>
<rect x="148.65" y="350.75" width="8.1" height="3.00" fill="#0f9a84"/>
<rect x="157.42" y="331.25" width="8.1" height="22.50" fill="#0f9a84"/>
<rect x="166.18" y="343.25" width="8.1" height="10.50" fill="#0f9a84"/>
<rect x="174.94" y="343.25" width="8.1" height="10.50" fill="#0f9a84"/>
<rect x="183.70" y="331.75" width="8.1" height="22.00" fill="#0f9a84"/>
<rect x="192.46" y="327.5" width="8.1" height="26.25" fill="#0f9a84"/>
<rect x="201.23" y="307" width="8.1" height="46.75" fill="#0f9a84"/>
<rect x="209.99" y="338.75" width="8.1" height="15.00" fill="#0f9a84"/>
<rect x="218.75" y="333" width="8.1" height="20.75" fill="#0f9a84"/>
<rect x="227.51" y="314.5" width="8.1" height="39.25" fill="#0f9a84"/>
<rect x="236.27" y="313" width="8.1" height="40.75" fill="#0f9a84"/>
<rect x="245.04" y="329.5" width="8.1" height="24.25" fill="#0f9a84"/>
<rect x="253.80" y="324.5" width="8.1" height="29.25" fill="#0f9a84"/>
<rect x="262.56" y="343" width="8.1" height="10.75" fill="#0f9a84"/>
<rect x="271.32" y="353.75" width="8.1" height="4.50" fill="#f23645"/>
<rect x="280.08" y="353.75" width="8.1" height="17.50" fill="#f23645"/>
<rect x="288.85" y="353.75" width="8.1" height="5.50" fill="#f23645"/>
<rect x="297.61" y="353.75" width="8.1" height="21.75" fill="#f23645"/>
<rect x="306.37" y="353.75" width="8.1" height="34.50" fill="#f23645"/>
<rect x="315.13" y="353.75" width="8.1" height="5.75" fill="#f23645"/>
<rect x="323.89" y="348" width="8.1" height="5.75" fill="#0f9a84"/>
<rect x="332.66" y="338" width="8.1" height="15.75" fill="#0f9a84"/>
<rect x="341.42" y="336.75" width="8.1" height="17.00" fill="#0f9a84"/>
<rect x="350.18" y="343" width="8.1" height="10.75" fill="#0f9a84"/>
<rect x="358.94" y="322" width="8.1" height="31.75" fill="#0f9a84"/>
<rect x="367.70" y="311.75" width="8.1" height="42.00" fill="#0f9a84"/>
<rect x="376.47" y="353.75" width="8.1" height="3.75" fill="#f23645"/>
<rect x="385.23" y="353.75" width="8.1" height="10.75" fill="#f23645"/>
<rect x="393.99" y="334.25" width="8.1" height="19.50" fill="#0f9a84"/>
<rect x="402.75" y="295.5" width="8.1" height="58.25" fill="#0f9a84"/>
<rect x="411.51" y="318" width="8.1" height="35.75" fill="#0f9a84"/>
<rect x="420.28" y="327.5" width="8.1" height="26.25" fill="#0f9a84"/>
<rect x="429.04" y="350.75" width="8.1" height="3.00" fill="#0f9a84"/>
<rect x="437.80" y="342.25" width="8.1" height="11.50" fill="#0f9a84"/>
<rect x="446.56" y="324.5" width="8.1" height="29.25" fill="#0f9a84"/>
<rect x="455.32" y="343" width="8.1" height="10.75" fill="#0f9a84"/>
<rect x="464.09" y="346.25" width="8.1" height="7.50" fill="#0f9a84"/>
<rect x="472.85" y="353.75" width="8.1" height="16.75" fill="#f23645"/>
<rect x="481.61" y="350" width="8.1" height="3.75" fill="#0f9a84"/>
<rect x="490.37" y="333" width="8.1" height="20.75" fill="#0f9a84"/>
<rect x="499.13" y="336.75" width="8.1" height="17.00" fill="#0f9a84"/>
<rect x="507.90" y="345.75" width="8.1" height="8.00" fill="#0f9a84"/>
<rect x="516.66" y="348" width="8.1" height="5.75" fill="#0f9a84"/>
<rect x="525.42" y="353.75" width="8.1" height="28.25" fill="#f23645"/>
<rect x="534.18" y="353.75" width="8.1" height="30.50" fill="#f23645"/>
<rect x="542.94" y="353.75" width="8.1" height="32.50" fill="#f23645"/>
<rect x="551.71" y="353.75" width="8.1" height="7.50" fill="#f23645"/>
<rect x="560.47" y="353.75" width="8.1" height="29.50" fill="#f23645"/>
<rect x="569.23" y="353.75" width="8.1" height="39.25" fill="#f23645"/>
<rect x="577.99" y="353.75" width="8.1" height="15.75" fill="#f23645"/>
<rect x="586.75" y="353.75" width="8.1" height="11.25" fill="#f23645"/>
<rect x="595.52" y="353.75" width="8.1" height="25.50" fill="#f23645"/>
<rect x="604.28" y="353.75" width="8.1" height="3.75" fill="#f23645"/>
<rect x="613.04" y="350" width="8.1" height="3.75" fill="#0f9a84"/>
<rect x="621.80" y="340" width="8.1" height="13.75" fill="#0f9a84"/>
<rect x="630.56" y="328.75" width="8.1" height="25.00" fill="#0f9a84"/>
<rect x="639.33" y="342.5" width="8.1" height="11.25" fill="#0f9a84"/>
<rect x="648.09" y="340.75" width="8.1" height="13.00" fill="#0f9a84"/>
<rect x="656.85" y="326.75" width="8.1" height="27.00" fill="#0f9a84"/>
<rect x="665.61" y="318" width="8.1" height="35.75" fill="#0f9a84"/>
<rect x="674.37" y="353.75" width="8.1" height="43.75" fill="#f23645"/>
<rect x="683.14" y="353.75" width="8.1" height="18.25" fill="#f23645"/>
<rect x="691.90" y="353.75" width="8.1" height="41.75" fill="#f23645"/>
<rect x="700.66" y="353.75" width="8.1" height="37.00" fill="#f23645"/>
<rect x="709.42" y="353.75" width="8.1" height="15.50" fill="#f23645"/>
<rect x="718.18" y="353.75" width="8.1" height="10.00" fill="#f23645"/>
<rect x="726.95" y="353.75" width="8.1" height="2.75" fill="#f23645"/>
<rect x="735.71" y="353.75" width="8.1" height="15.50" fill="#f23645"/>
<rect x="744.47" y="353.75" width="8.1" height="33.00" fill="#f23645"/>
<line x1="-0.62" x2="-0.62" y1="294" y2="401" stroke="#ffffff" stroke-opacity="0.4" stroke-width="0.5"/>
<line x1="8.14" x2="8.14" y1="294" y2="401" stroke="#ffffff" stroke-opacity="0.4" stroke-width="0.5"/>
<line x1="16.90" x2="16.90" y1="294" y2="401" stroke="#ffffff" stroke-opacity="0.4" stroke-width="0.5"/>
<line x1="25.66" x2="25.66" y1="294" y2="401" stroke="#ffffff" stroke-opacity="0.4" stroke-width="0.5"/>
<line x1="34.42" x2="34.42" y1="294" y2="401" stroke="#ffffff" stroke-opacity="0.4" stroke-width="0.5"/>
<line x1="43.19" x2="43.19" y1="294" y2="401" stroke="#ffffff" stroke-opacity="0.4" stroke-width="0.5"/>
<line x1="51.95" x2="51.95" y1="294" y2="401" stroke="#ffffff" stroke-opacity="0.4" stroke-width="0.5"/>
<line x1="60.71" x2="60.71" y1="294" y2="401" stroke="#ffffff" stroke-opacity="0.4" stroke-width="0.5"/>
<line x1="69.47" x2="69.47" y1="294" y2="401" stroke="#ffffff" stroke-opacity="0.4" stroke-width="0.5"/>
<line x1="78.23" x2="78.23" y1="294" y2="401" stroke="#ffffff" stroke-opacity="0.4" stroke-width="0.5"/>
<line x1="87.00" x2="87.00" y1="294" y2="401" stroke="#ffffff" stroke-opacity="0.4" stroke-width="0.5"/>
<line x1="95.76" x2="95.76" y1="294" y2="401" stroke="#ffffff" stroke-opacity="0.4" stroke-width="0.5"/>
<line x1="104.52" x2="104.52" y1="294" y2="401" stroke="#ffffff" stroke-opacity="0.4" stroke-width="0.5"/>
<line x1="113.28" x2="113.28" y1="294" y2="401" stroke="#ffffff" stroke-opacity="0.4" stroke-width="0.5"/>
<line x1="122.04" x2="122.04" y1="294" y2="401" stroke="#ffffff" stroke-opacity="0.4" stroke-width="0.5"/>
<line x1="130.81" x2="130.81" y1="294" y2="401" stroke="#ffffff" stroke-opacity="0.4" stroke-width="0.5"/>
<line x1="139.57" x2="139.57" y1="294" y2="401" stroke="#ffffff" stroke-opacity="0.4" stroke-width="0.5"/>
<line x1="148.33" x2="148.33" y1="294" y2="401" stroke="#ffffff" stroke-opacity="0.4" stroke-width="0.5"/>
<line x1="157.09" x2="157.09" y1="294" y2="401" stroke="#ffffff" stroke-opacity="0.4" stroke-width="0.5"/>
<line x1="165.85" x2="165.85" y1="294" y2="401" stroke="#ffffff" stroke-opacity="0.4" stroke-width="0.5"/>
<line x1="174.62" x2="174.62" y1="294" y2="401" stroke="#ffffff" stroke-opacity="0.4" stroke-width="0.5"/>
<line x1="183.38" x2="183.38" y1="294" y2="401" stroke="#ffffff" stroke-opacity="0.4" stroke-width="0.5"/>
<line x1="192.14" x2="192.14" y1="294" y2="401" stroke="#ffffff" stroke-opacity="0.4" stroke-width="0.5"/>
<line x1="200.90" x2="200.90" y1="294" y2="401" stroke="#ffffff" stroke-opacity="0.4" stroke-width="0.5"/>
<line x1="209.66" x2="209.66" y1="294" y2="401" stroke="#ffffff" stroke-opacity="0.4" stroke-width="0.5"/>
<line x1="218.43" x2="218.43" y1="294" y2="401" stroke="#ffffff" stroke-opacity="0.4" stroke-width="0.5"/>
<line x1="227.19" x2="227.19" y1="294" y2="401" stroke="#ffffff" stroke-opacity="0.4" stroke-width="0.5"/>
<line x1="235.95" x2="235.95" y1="294" y2="401" stroke="#ffffff" stroke-opacity="0.4" stroke-width="0.5"/>
<line x1="244.71" x2="244.71" y1="294" y2="401" stroke="#ffffff" stroke-opacity="0.4" stroke-width="0.5"/>
<line x1="253.47" x2="253.47" y1="294" y2="401" stroke="#ffffff" stroke-opacity="0.4" stroke-width="0.5"/>
<line x1="262.24" x2="262.24" y1="294" y2="401" stroke="#ffffff" stroke-opacity="0.4" stroke-width="0.5"/>
<line x1="271.00" x2="271.00" y1="294" y2="401" stroke="#ffffff" stroke-opacity="0.4" stroke-width="0.5"/>
<line x1="279.76" x2="279.76" y1="294" y2="401" stroke="#ffffff" stroke-opacity="0.4" stroke-width="0.5"/>
<line x1="288.52" x2="288.52" y1="294" y2="401" stroke="#ffffff" stroke-opacity="0.4" stroke-width="0.5"/>
<line x1="297.28" x2="297.28" y1="294" y2="401" stroke="#ffffff" stroke-opacity="0.4" stroke-width="0.5"/>
<line x1="306.05" x2="306.05" y1="294" y2="401" stroke="#ffffff" stroke-opacity="0.4" stroke-width="0.5"/>
<line x1="314.81" x2="314.81" y1="294" y2="401" stroke="#ffffff" stroke-opacity="0.4" stroke-width="0.5"/>
<line x1="323.57" x2="323.57" y1="294" y2="401" stroke="#ffffff" stroke-opacity="0.4" stroke-width="0.5"/>
<line x1="332.33" x2="332.33" y1="294" y2="401" stroke="#ffffff" stroke-opacity="0.4" stroke-width="0.5"/>
<line x1="341.09" x2="341.09" y1="294" y2="401" stroke="#ffffff" stroke-opacity="0.4" stroke-width="0.5"/>
<line x1="349.86" x2="349.86" y1="294" y2="401" stroke="#ffffff" stroke-opacity="0.4" stroke-width="0.5"/>
<line x1="358.62" x2="358.62" y1="294" y2="401" stroke="#ffffff" stroke-opacity="0.4" stroke-width="0.5"/>
<line x1="367.38" x2="367.38" y1="294" y2="401" stroke="#ffffff" stroke-opacity="0.4" stroke-width="0.5"/>
<line x1="376.14" x2="376.14" y1="294" y2="401" stroke="#ffffff" stroke-opacity="0.4" stroke-width="0.5"/>
<line x1="384.90" x2="384.90" y1="294" y2="401" stroke="#ffffff" stroke-opacity="0.4" stroke-width="0.5"/>
<line x1="393.67" x2="393.67" y1="294" y2="401" stroke="#ffffff" stroke-opacity="0.4" stroke-width="0.5"/>
<line x1="402.43" x2="402.43" y1="294" y2="401" stroke="#ffffff" stroke-opacity="0.4" stroke-width="0.5"/>
<line x1="411.19" x2="411.19" y1="294" y2="401" stroke="#ffffff" stroke-opacity="0.4" stroke-width="0.5"/>
<line x1="419.95" x2="419.95" y1="294" y2="401" stroke="#ffffff" stroke-opacity="0.4" stroke-width="0.5"/>
<line x1="428.71" x2="428.71" y1="294" y2="401" stroke="#ffffff" stroke-opacity="0.4" stroke-width="0.5"/>
<line x1="437.48" x2="437.48" y1="294" y2="401" stroke="#ffffff" stroke-opacity="0.4" stroke-width="0.5"/>
<line x1="446.24" x2="446.24" y1="294" y2="401" stroke="#ffffff" stroke-opacity="0.4" stroke-width="0.5"/>
<line x1="455.00" x2="455.00" y1="294" y2="401" stroke="#ffffff" stroke-opacity="0.4" stroke-width="0.5"/>
<line x1="463.76" x2="463.76" y1="294" y2="401" stroke="#ffffff" stroke-opacity="0.4" stroke-width="0.5"/>
<line x1="472.52" x2="472.52" y1="294" y2="401" stroke="#ffffff" stroke-opacity="0.4" stroke-width="0.5"/>
<line x1="481.29" x2="481.29" y1="294" y2="401" stroke="#ffffff" stroke-opacity="0.4" stroke-width="0.5"/>
<line x1="490.05" x2="490.05" y1="294" y2="401" stroke="#ffffff" stroke-opacity="0.4" stroke-width="0.5"/>
<line x1="498.81" x2="498.81" y1="294" y2="401" stroke="#ffffff" stroke-opacity="0.4" stroke-width="0.5"/>
<line x1="507.57" x2="507.57" y1="294" y2="401" stroke="#ffffff" stroke-opacity="0.4" stroke-width="0.5"/>
<line x1="516.33" x2="516.33" y1="294" y2="401" stroke="#ffffff" stroke-opacity="0.4" stroke-width="0.5"/>
<line x1="525.10" x2="525.10" y1="294" y2="401" stroke="#ffffff" stroke-opacity="0.4" stroke-width="0.5"/>
<line x1="533.86" x2="533.86" y1="294" y2="401" stroke="#ffffff" stroke-opacity="0.4" stroke-width="0.5"/>
<line x1="542.62" x2="542.62" y1="294" y2="401" stroke="#ffffff" stroke-opacity="0.4" stroke-width="0.5"/>
<line x1="551.38" x2="551.38" y1="294" y2="401" stroke="#ffffff" stroke-opacity="0.4" stroke-width="0.5"/>
<line x1="560.14" x2="560.14" y1="294" y2="401" stroke="#ffffff" stroke-opacity="0.4" stroke-width="0.5"/>
<line x1="568.90" x2="568.90" y1="294" y2="401" stroke="#ffffff" stroke-opacity="0.4" stroke-width="0.5"/>
<line x1="577.67" x2="577.67" y1="294" y2="401" stroke="#ffffff" stroke-opacity="0.4" stroke-width="0.5"/>
<line x1="586.43" x2="586.43" y1="294" y2="401" stroke="#ffffff" stroke-opacity="0.4" stroke-width="0.5"/>
<line x1="595.19" x2="595.19" y1="294" y2="401" stroke="#ffffff" stroke-opacity="0.4" stroke-width="0.5"/>
<line x1="603.95" x2="603.95" y1="294" y2="401" stroke="#ffffff" stroke-opacity="0.4" stroke-width="0.5"/>
<line x1="612.72" x2="612.72" y1="294" y2="401" stroke="#ffffff" stroke-opacity="0.4" stroke-width="0.5"/>
<line x1="621.48" x2="621.48" y1="294" y2="401" stroke="#ffffff" stroke-opacity="0.4" stroke-width="0.5"/>
<line x1="630.24" x2="630.24" y1="294" y2="401" stroke="#ffffff" stroke-opacity="0.4" stroke-width="0.5"/>
<line x1="639.00" x2="639.00" y1="294" y2="401" stroke="#ffffff" stroke-opacity="0.4" stroke-width="0.5"/>
<line x1="647.76" x2="647.76" y1="294" y2="401" stroke="#ffffff" stroke-opacity="0.4" stroke-width="0.5"/>
<line x1="656.53" x2="656.53" y1="294" y2="401" stroke="#ffffff" stroke-opacity="0.4" stroke-width="0.5"/>
<line x1="665.29" x2="665.29" y1="294" y2="401" stroke="#ffffff" stroke-opacity="0.4" stroke-width="0.5"/>
<line x1="674.05" x2="674.05" y1="294" y2="401" stroke="#ffffff" stroke-opacity="0.4" stroke-width="0.5"/>
<line x1="682.81" x2="682.81" y1="294" y2="401" stroke="#ffffff" stroke-opacity="0.4" stroke-width="0.5"/>
<line x1="691.57" x2="691.57" y1="294" y2="401" stroke="#ffffff" stroke-opacity="0.4" stroke-width="0.5"/>
<line x1="700.34" x2="700.34" y1="294" y2="401" stroke="#ffffff" stroke-opacity="0.4" stroke-width="0.5"/>
<line x1="709.10" x2="709.10" y1="294" y2="401" stroke="#ffffff" stroke-opacity="0.4" stroke-width="0.5"/>
<line x1="717.86" x2="717.86" y1="294" y2="401" stroke="#ffffff" stroke-opacity="0.4" stroke-width="0.5"/>
<line x1="726.62" x2="726.62" y1="294" y2="401" stroke="#ffffff" stroke-opacity="0.4" stroke-width="0.5"/>
<line x1="735.38" x2="735.38" y1="294" y2="401" stroke="#ffffff" stroke-opacity="0.4" stroke-width="0.5"/>
<line x1="744.14" x2="744.14" y1="294" y2="401" stroke="#ffffff" stroke-opacity="0.4" stroke-width="0.5"/>
<line x1="752.91" x2="752.91" y1="294" y2="401" stroke="#ffffff" stroke-opacity="0.4" stroke-width="0.5"/>
<line x1="753" x2="851" y1="353.75" y2="353.75" stroke="#8c9096" stroke-width="0.6" stroke-dasharray="2.2 2.6"/>
<line x1="681.8" y1="397.5" x2="851" y2="373" stroke="#8fae90" stroke-width="0.6" stroke-dasharray="2.2 2.6"/>
<path d="M122.31800000000001,279.6 V274.7 Q122.31800000000001,273.90000000000003 123.11800000000001,273.5 L125.81800000000001,272.0 Q126.418,271.7 127.018,272.0 L129.71800000000002,273.5 Q130.518,273.90000000000003 130.518,274.7 V279.6 Q130.518,280.7 129.418,280.7 H123.418 Q122.31800000000001,280.7 122.31800000000001,279.6 Z" fill="#f4fbf8" stroke="#3a3e49" stroke-width="0.75" stroke-linejoin="round"/>
<text x="126.418" y="279.12" font-size="5.4" font-weight="bold" fill="#50535e" text-anchor="middle" >E</text>
<path d="M674.324,279.6 V274.7 Q674.324,273.90000000000003 675.124,273.5 L677.824,272.0 Q678.424,271.7 679.024,272.0 L681.7239999999999,273.5 Q682.524,273.90000000000003 682.524,274.7 V279.6 Q682.524,280.7 681.424,280.7 H675.424 Q674.324,280.7 674.324,279.6 Z" fill="#f4fbf8" stroke="#3a3e49" stroke-width="0.75" stroke-linejoin="round"/>
<text x="678.424" y="279.12" font-size="5.4" font-weight="bold" fill="#50535e" text-anchor="middle" >E</text>
<circle cx="748.9" cy="276.6" r="4" fill="#ffffff" stroke="#8e24aa" stroke-width="0.75"/>
<path d="M750.1,273.7 L747.3,277.1 H749 L747.9,279.7 L750.9,276.1 H749.2 Z" fill="#8e24aa"/>
<path d="M743.2,276.2 L743.9,277.6 L745.3,278.3 L743.9,279 L743.2,280.4 L742.5,279 L741.1,278.3 L742.5,277.6 Z" fill="#7e57c2"/>
<text x="5.5" y="292.65" font-size="5.2" font-weight="normal" fill="#50535e" text-anchor="start" >BBP 13</text>
<text x="28.5" y="292.65" font-size="5.2" font-weight="normal" fill="#f23645" text-anchor="start" >−4.80</text>
<g fill="#131722"><path d="M6.9,396.1 h6.2 v7.2 h-3.1 v-4.4 h-3.1 z"/><circle cx="15" cy="397.6" r="1.45"/><path d="M17.3,396.1 h3.9 l-3,7.2 h-3.9 z"/></g>
<text x="25" y="403.29" font-size="9.7" font-weight="bold" fill="#131722" text-anchor="start" textLength="57.8" lengthAdjust="spacingAndGlyphs" >TradingView</text>
</g>
<line x1="1" x2="876" y1="410.8" y2="410.8" stroke="#9a9da5" stroke-width="0.8"/>
<text x="12.512" y="419.12" font-size="5.4" font-weight="normal" fill="#4a4e59" text-anchor="middle" >18</text>
<text x="38.798" y="419.12" font-size="5.4" font-weight="normal" fill="#4a4e59" text-anchor="middle" >23</text>
<text x="65.084" y="419.12" font-size="5.4" font-weight="normal" fill="#4a4e59" text-anchor="middle" >28</text>
<text x="100.132" y="419.12" font-size="5.4" font-weight="normal" fill="#4a4e59" text-anchor="middle" >Aug</text>
<text x="126.418" y="419.12" font-size="5.4" font-weight="normal" fill="#4a4e59" text-anchor="middle" >6</text>
<text x="152.704" y="419.12" font-size="5.4" font-weight="normal" fill="#4a4e59" text-anchor="middle" >11</text>
<text x="178.99" y="419.12" font-size="5.4" font-weight="normal" fill="#4a4e59" text-anchor="middle" >14</text>
<text x="205.276" y="419.12" font-size="5.4" font-weight="normal" fill="#4a4e59" text-anchor="middle" >19</text>
<text x="231.562" y="419.12" font-size="5.4" font-weight="normal" fill="#4a4e59" text-anchor="middle" >22</text>
<text x="257.848" y="419.12" font-size="5.4" font-weight="normal" fill="#4a4e59" text-anchor="middle" >27</text>
<text x="284.134" y="419.12" font-size="5.4" font-weight="normal" fill="#4a4e59" text-anchor="middle" >Sep</text>
<text x="310.42" y="419.12" font-size="5.4" font-weight="normal" fill="#4a4e59" text-anchor="middle" >5</text>
<text x="336.706" y="419.12" font-size="5.4" font-weight="normal" fill="#4a4e59" text-anchor="middle" >10</text>
<text x="362.992" y="419.12" font-size="5.4" font-weight="normal" fill="#4a4e59" text-anchor="middle" >15</text>
<text x="389.278" y="419.12" font-size="5.4" font-weight="normal" fill="#4a4e59" text-anchor="middle" >18</text>
<text x="415.564" y="419.12" font-size="5.4" font-weight="normal" fill="#4a4e59" text-anchor="middle" >23</text>
<text x="441.85" y="419.12" font-size="5.4" font-weight="normal" fill="#4a4e59" text-anchor="middle" >26</text>
<text x="468.136" y="419.12" font-size="5.4" font-weight="normal" fill="#4a4e59" text-anchor="middle" >Oct</text>
<text x="494.422" y="419.12" font-size="5.4" font-weight="normal" fill="#4a4e59" text-anchor="middle" >6</text>
<text x="520.7080000000001" y="419.12" font-size="5.4" font-weight="normal" fill="#4a4e59" text-anchor="middle" >9</text>
<text x="546.994" y="419.12" font-size="5.4" font-weight="normal" fill="#4a4e59" text-anchor="middle" >14</text>
<text x="573.28" y="419.12" font-size="5.4" font-weight="normal" fill="#4a4e59" text-anchor="middle" >17</text>
<text x="599.566" y="419.12" font-size="5.4" font-weight="normal" fill="#4a4e59" text-anchor="middle" >22</text>
<text x="625.8520000000001" y="419.12" font-size="5.4" font-weight="normal" fill="#4a4e59" text-anchor="middle" >27</text>
<text x="669.662" y="419.12" font-size="5.4" font-weight="normal" fill="#4a4e59" text-anchor="middle" >Nov</text>
<text x="695.9480000000001" y="419.12" font-size="5.4" font-weight="normal" fill="#4a4e59" text-anchor="middle" >6</text>
<text x="722.234" y="419.12" font-size="5.4" font-weight="normal" fill="#4a4e59" text-anchor="middle" >11</text>
<text x="748.52" y="419.12" font-size="5.4" font-weight="normal" fill="#4a4e59" text-anchor="middle" >14</text>
<text x="774.806" y="419.12" font-size="5.4" font-weight="normal" fill="#4a4e59" text-anchor="middle" >19</text>
<text x="801.0920000000001" y="419.12" font-size="5.4" font-weight="normal" fill="#4a4e59" text-anchor="middle" >24</text>
<text x="836.1400000000001" y="419.12" font-size="5.4" font-weight="normal" fill="#4a4e59" text-anchor="middle" >Dec</text>
<line x1="0" x2="877" y1="424.2" y2="424.2" stroke="#f1f2f5" stroke-width="0.6"/>
<rect x="850.3" y="19.5" width="1.7" height="404.5" fill="#cfd1d6"/>
<text x="855" y="58.73" font-size="5.6" font-weight="normal" fill="#3c404b" text-anchor="start" >100.00</text>
<text x="855" y="87.55" font-size="5.6" font-weight="normal" fill="#3c404b" text-anchor="start" >98.00</text>
<text x="855" y="116.37" font-size="5.6" font-weight="normal" fill="#3c404b" text-anchor="start" >96.00</text>
<text x="855" y="145.19" font-size="5.6" font-weight="normal" fill="#3c404b" text-anchor="start" >94.00</text>
<text x="855" y="174.01" font-size="5.6" font-weight="normal" fill="#3c404b" text-anchor="start" >92.00</text>
<text x="855" y="202.83" font-size="5.6" font-weight="normal" fill="#3c404b" text-anchor="start" >90.00</text>
<text x="855" y="231.65" font-size="5.6" font-weight="normal" fill="#3c404b" text-anchor="start" >88.00</text>
<text x="855" y="260.47" font-size="5.6" font-weight="normal" fill="#3c404b" text-anchor="start" >86.00</text>
<text x="855" y="287.42" font-size="5.4" font-weight="normal" fill="#3c404b" text-anchor="start" >10.00</text>
<text x="855" y="304.48" font-size="5.4" font-weight="normal" fill="#3c404b" text-anchor="start" >7.50</text>
<text x="855" y="321.54" font-size="5.4" font-weight="normal" fill="#3c404b" text-anchor="start" >5.00</text>
<text x="855" y="338.60" font-size="5.4" font-weight="normal" fill="#3c404b" text-anchor="start" >2.50</text>
<text x="855" y="355.67" font-size="5.4" font-weight="normal" fill="#3c404b" text-anchor="start" >0.0000</text>
<text x="855" y="372.73" font-size="5.4" font-weight="normal" fill="#3c404b" text-anchor="start" >−2.50</text>
<text x="855" y="389.79" font-size="5.4" font-weight="normal" fill="#3c404b" text-anchor="start" >−5.00</text>
<text x="855" y="406.85" font-size="5.4" font-weight="normal" fill="#3c404b" text-anchor="start" >−7.50</text>
<rect x="853.4" y="22.3" width="21" height="11" rx="1.2" fill="#ffffff" stroke="#eceef2" stroke-width="0.6"/>
<text x="855" y="30.03" font-size="6" font-weight="bold" fill="#2a2e39" text-anchor="start" textLength="9.6" lengthAdjust="spacingAndGlyphs" >USD</text>
<path d="M869.3,27.2 l1.3,1.3 l1.3,-1.3" fill="none" stroke="#2a2e39" stroke-width="0.7"/>
<rect x="833.9" y="173.7" width="37.9" height="8" rx="1" fill="#2a9d90"/>
<text x="835.6" y="179.79" font-size="5.6" font-weight="bold" fill="#ffffff" text-anchor="start" textLength="13.4" lengthAdjust="spacingAndGlyphs" >UBER</text>
<text x="855.2" y="179.79" font-size="5.6" font-weight="bold" fill="#ffffff" text-anchor="start" textLength="14.2" lengthAdjust="spacingAndGlyphs" >91.62</text>
<g fill="none" stroke="#2a2e39" stroke-width="0.7"><path d="M864.3,413.9 l3,1.7 v3.4 l-3,1.7 l-3,-1.7 v-3.4 z"/><circle cx="864.3" cy="417.3" r="1.1"/></g>
<g id="top">
<rect x="0" y="16.7" width="900" height="2.9" fill="#e9eaee"/>
<rect x="0" y="19.5" width="1.1" height="425" fill="#e9eaee"/>
<g fill="none" stroke="#131722" stroke-width="1"><circle cx="7.9" cy="7.8" r="2.6"/><path d="M9.8,9.8 l2.2,2.2"/></g>
<text x="15" y="10.84" font-size="6.6" font-weight="bold" fill="#131722" text-anchor="start" textLength="16" lengthAdjust="spacingAndGlyphs" >UBER</text>
<g fill="none" stroke="#131722" stroke-width="0.7"><circle cx="55.8" cy="8.6" r="4.5"/><path d="M55.8,6.2 v4.8 M53.4,8.6 h4.8"/></g>
<line x1="67.5" x2="67.5" y1="4" y2="13.5" stroke="#e6e8ee" stroke-width="0.7"/>
<line x1="90.8" x2="90.8" y1="4" y2="13.5" stroke="#e6e8ee" stroke-width="0.7"/>
<line x1="112.5" x2="112.5" y1="4" y2="13.5" stroke="#e6e8ee" stroke-width="0.7"/>
<line x1="187" x2="187" y1="4" y2="13.5" stroke="#e6e8ee" stroke-width="0.7"/>
<line x1="272" x2="272" y1="4" y2="13.5" stroke="#e6e8ee" stroke-width="0.7"/>
<text x="78.7" y="10.91" font-size="6.8" font-weight="bold" fill="#131722" text-anchor="middle" textLength="4.4" lengthAdjust="spacingAndGlyphs" >D</text>
<g fill="none" stroke="#131722" stroke-width="0.7"><rect x="98.4" y="5.9" width="2" height="5.4" rx="0.5"/><path d="M99.4,4.2 v1.7 M99.4,11.3 v1.7"/><rect x="102.6" y="6.8" width="2" height="3.8" rx="0.5"/><path d="M103.6,5 v1.8 M103.6,10.6 v1.8"/></g>
<g fill="none" stroke="#131722" stroke-width="0.7"><path d="M120.3,7.5 l2.6,-2.2 l2.2,1.4 l3.4,-2.6"/><path d="M120.6,12.6 v-2.6 h1.8 v2.6 M123.6,12.6 v-3.6 h1.8 v3.6 M126.6,12.6 v-4.8 h1.8 v4.8 M119.8,12.6 h9.6"/></g>
<text x="133" y="10.98" font-size="7" font-weight="bold" fill="#131722" text-anchor="start" textLength="29.5" lengthAdjust="spacingAndGlyphs" >Indicators</text>
<g fill="none" stroke="#131722" stroke-width="0.7"><rect x="173.2" y="4.9" width="3" height="3" rx="0.7"/><rect x="178.1" y="4.9" width="3" height="3" rx="0.7"/><rect x="173.2" y="9.6" width="3" height="3" rx="0.7"/><rect x="178.1" y="9.6" width="3" height="3" rx="0.7"/></g>
<g fill="none" stroke="#131722" stroke-width="0.7"><path d="M200.53,11.98 A3.6,3.6 0 1 1 202.98,9.73"/><path d="M199.6,6.4 v2.3 h1.7"/><path d="M195.2,5.9 l1.8,-1.8 M202.2,4.1 l1.8,1.8" stroke-width="0.9"/><path d="M203.2,10.2 v3.2 M201.6,11.8 h3.2" stroke-width="0.8"/></g>
<text x="208.3" y="10.98" font-size="7" font-weight="bold" fill="#131722" text-anchor="start" textLength="14.2" lengthAdjust="spacingAndGlyphs" >Alert</text>
<g fill="none" stroke="#131722" stroke-width="0.7" stroke-linejoin="round"><path d="M237.1,6.3 v5 l-2.9,-2.5 z"/><path d="M241,6.3 v5 l-2.9,-2.5 z"/></g>
<text x="245.8" y="10.98" font-size="7" font-weight="bold" fill="#131722" text-anchor="start" textLength="19.5" lengthAdjust="spacingAndGlyphs" >Replay</text>
<path d="M280.4,7.6 h3.6 a2.6,2.6 0 0 1 2.6,2.6 v1 M282.3,5.6 l-2.1,2 l2.1,2" fill="none" stroke="#131722" stroke-width="0.7"/>
<path d="M304.8,7.6 h-3.6 a2.6,2.6 0 0 0 -2.6,2.6 v1 M302.9,5.6 l2.1,2 l-2.1,2" fill="none" stroke="#b2b5be" stroke-width="0.7"/>
<rect x="726.4" y="5.6" width="9.4" height="6.6" rx="1" fill="none" stroke="#131722" stroke-width="0.7"/>
<text x="742.9" y="9.11" font-size="6.8" font-weight="bold" fill="#131722" text-anchor="start" textLength="28.2" lengthAdjust="spacingAndGlyphs" >Unnamed</text>
<text x="751.5" y="13.88" font-size="5" font-weight="normal" fill="#1e53e5" text-anchor="start" textLength="10.3" lengthAdjust="spacingAndGlyphs" >Save</text>
<path d="M777.6,7.8 l1.6,1.6 l1.6,-1.6" fill="none" stroke="#131722" stroke-width="0.7"/>
<line x1="787.3" x2="787.3" y1="4" y2="13.5" stroke="#e6e8ee" stroke-width="0.7"/>
<g fill="none" stroke="#131722" stroke-width="0.7"><circle cx="797.6" cy="7.8" r="3.4"/><path d="M800,10.4 l3,3"/><path d="M798.6,3.2 l-2,4.2 h2.4 l-1.6,3.6" stroke-linejoin="round"/></g>
<g fill="none" stroke="#131722" stroke-width="0.7"><path d="M814.3,4.6 h5 l2.5,4.1 l-2.5,4.1 h-5 l-2.5,-4.1 z" stroke-linejoin="round"/><circle cx="816.8" cy="8.7" r="1.8"/></g>
<path d="M830.6,7.2 v-1.4 a1.2,1.2 0 0 1 1.2,-1.2 h1.4 M837,4.6 h1.4 a1.2,1.2 0 0 1 1.2,1.2 v1.4 M839.6,10 v1.4 a1.2,1.2 0 0 1 -1.2,1.2 h-1.4 M833.2,12.6 h-1.4 a1.2,1.2 0 0 1 -1.2,-1.2 v-1.4" fill="none" stroke="#131722" stroke-width="0.7"/>
<g fill="none" stroke="#131722" stroke-width="0.7"><path d="M848,6.2 h2 l0.9,-1.4 h4.4 l0.9,1.4 h2 a0.8,0.8 0 0 1 0.8,0.8 v5 a0.8,0.8 0 0 1 -0.8,0.8 h-10.2 a0.8,0.8 0 0 1 -0.8,-0.8 v-5 a0.8,0.8 0 0 1 0.8,-0.8 z"/><circle cx="853.3" cy="9.2" r="2"/></g>
<rect x="864.9" y="2.2" width="32.9" height="12.9" rx="6.45" fill="#1e2026"/>
<text x="881.4" y="11.08" font-size="7" font-weight="bold" fill="#ffffff" text-anchor="middle" textLength="21.5" lengthAdjust="spacingAndGlyphs" >Publish</text>
</g>
<g id="legend">
<circle cx="9.45" cy="27.45" r="4.3" fill="#000"/><rect x="7" y="25" width="4.9" height="4.9" rx="0.8" fill="#fff"/><circle cx="9.45" cy="27.45" r="0.85" fill="#000"/>
<text x="16.1" y="30.13" font-size="7.7" font-weight="normal" fill="#5a5d66" text-anchor="start" textLength="117.9" lengthAdjust="spacingAndGlyphs" >Uber Technologies, Inc. <tspan font-size="4.6" dy="-0.8">•</tspan><tspan dy="0.8"> 1D </tspan><tspan font-size="4.6" dy="-0.8">•</tspan><tspan dy="0.8"> NYSE</tspan></text>
<rect x="138.3" y="23.4" width="17.5" height="8.3" rx="4.1" fill="#eceef2"/>
<path d="M147.2,23.4 h4.5 a4.1,4.15 0 0 1 0,8.3 h-4.5 z" fill="#fbdff0"/>
<line x1="141.6" x2="144.4" y1="27.5" y2="27.5" stroke="#787b86" stroke-width="0.9"/>
<path d="M149.4,26.5 h4 M149.4,28.6 h4" stroke="#d81b8c" stroke-width="0.8"/>
<text x="161.7" y="29.80" font-size="6.2" font-weight="normal" fill="#4a4e59" text-anchor="start" >O</text>
<text x="166.29999999999998" y="29.80" font-size="6.2" font-weight="normal" fill="#2a9d90" text-anchor="start" textLength="15.3" lengthAdjust="spacingAndGlyphs" >90.06</text>
<text x="184.5" y="29.80" font-size="6.2" font-weight="normal" fill="#4a4e59" text-anchor="start" >H</text>
<text x="188.8" y="29.80" font-size="6.2" font-weight="normal" fill="#2a9d90" text-anchor="start" textLength="15.3" lengthAdjust="spacingAndGlyphs" >92.62</text>
<text x="207.8" y="29.80" font-size="6.2" font-weight="normal" fill="#4a4e59" text-anchor="start" >L</text>
<text x="211.20000000000002" y="29.80" font-size="6.2" font-weight="normal" fill="#2a9d90" text-anchor="start" textLength="15.3" lengthAdjust="spacingAndGlyphs" >89.62</text>
<text x="229.9" y="29.80" font-size="6.2" font-weight="normal" fill="#4a4e59" text-anchor="start" >C</text>
<text x="234.20000000000002" y="29.80" font-size="6.2" font-weight="normal" fill="#2a9d90" text-anchor="start" textLength="15.0" lengthAdjust="spacingAndGlyphs" >91.62</text>
<text x="252.5" y="29.80" font-size="6.2" font-weight="normal" fill="#2a9d90" text-anchor="start" textLength="40.5" lengthAdjust="spacingAndGlyphs" >−0.16 (−0.17%)</text>
<text x="296.3" y="29.80" font-size="6.2" font-weight="normal" fill="#4a4e59" text-anchor="start" textLength="7.4" lengthAdjust="spacingAndGlyphs" >Vol</text>
<text x="305" y="29.80" font-size="6.2" font-weight="normal" fill="#2a9d90" text-anchor="start" textLength="21.3" lengthAdjust="spacingAndGlyphs" >12.48 M</text>
<rect x="5.2" y="35.7" width="26" height="15.4" rx="2.2" fill="#fff" stroke="#e0605e" stroke-width="0.6"/>
<text x="18.2" y="41.99" font-size="5.6" font-weight="normal" fill="#d9413f" text-anchor="middle" textLength="14.4" lengthAdjust="spacingAndGlyphs" >91.62</text>
<text x="18.2" y="48.70" font-size="4.8" font-weight="normal" fill="#d9413f" text-anchor="middle" textLength="10" lengthAdjust="spacingAndGlyphs" >SELL</text>
<text x="39.8" y="45.00" font-size="4.8" font-weight="normal" fill="#2a2e39" text-anchor="middle" >0.00</text>
<rect x="48.5" y="35.7" width="26" height="15.4" rx="2.2" fill="#fff" stroke="#3b5b8c" stroke-width="0.6"/>
<text x="61.5" y="41.99" font-size="5.6" font-weight="normal" fill="#2f5fb3" text-anchor="middle" textLength="14.4" lengthAdjust="spacingAndGlyphs" >91.62</text>
<text x="61.5" y="48.70" font-size="4.8" font-weight="normal" fill="#2f5fb3" text-anchor="middle" textLength="8" lengthAdjust="spacingAndGlyphs" >BUY</text>
<text x="5.8" y="61.59" font-size="5.6" font-weight="normal" fill="#4a4e59" text-anchor="start" textLength="7.4" lengthAdjust="spacingAndGlyphs" >Vol</text>
<text x="18" y="61.59" font-size="5.6" font-weight="normal" fill="#2a9d90" text-anchor="start" textLength="20.7" lengthAdjust="spacingAndGlyphs" >12.48 M</text>
<rect x="5.2" y="66.8" width="13" height="9" rx="1.2" fill="#fff" stroke="#dfe1e7" stroke-width="0.6"/>
<path d="M10,72.2 l1.7,-1.7 l1.7,1.7" fill="none" stroke="#131722" stroke-width="0.8"/>
</g>
<g id="bottom">
<text x="11.6" y="436.38" font-size="7" font-weight="bold" fill="#2a2e39" text-anchor="middle" textLength="6.75" lengthAdjust="spacingAndGlyphs" >1D</text>
<text x="25" y="436.38" font-size="7" font-weight="bold" fill="#2a2e39" text-anchor="middle" textLength="7.5" lengthAdjust="spacingAndGlyphs" >5D</text>
<text x="39" y="436.38" font-size="7" font-weight="bold" fill="#2a2e39" text-anchor="middle" textLength="8" lengthAdjust="spacingAndGlyphs" >1M</text>
<text x="52.9" y="436.38" font-size="7" font-weight="bold" fill="#2a2e39" text-anchor="middle" textLength="8.25" lengthAdjust="spacingAndGlyphs" >3M</text>
<text x="66.9" y="436.38" font-size="7" font-weight="bold" fill="#2a2e39" text-anchor="middle" textLength="8.75" lengthAdjust="spacingAndGlyphs" >6M</text>
<text x="82.8" y="436.38" font-size="7" font-weight="bold" fill="#2a2e39" text-anchor="middle" textLength="12" lengthAdjust="spacingAndGlyphs" >YTD</text>
<text x="98.4" y="436.38" font-size="7" font-weight="bold" fill="#2a2e39" text-anchor="middle" textLength="6.75" lengthAdjust="spacingAndGlyphs" >1Y</text>
<text x="111.5" y="436.38" font-size="7" font-weight="bold" fill="#2a2e39" text-anchor="middle" textLength="7" lengthAdjust="spacingAndGlyphs" >5Y</text>
<text x="124.8" y="436.38" font-size="7" font-weight="bold" fill="#2a2e39" text-anchor="middle" textLength="8" lengthAdjust="spacingAndGlyphs" >All</text>
<line x1="134.5" x2="134.5" y1="428.5" y2="439" stroke="#e0e3eb" stroke-width="0.7"/>
<g fill="none" stroke="#131722" stroke-width="0.7"><path d="M142.4,433.2 v-2.6 a1,1 0 0 1 1,-1 h5.6 a1,1 0 0 1 1,1 v5.8 a1,1 0 0 1 -1,1 h-2.4"/><path d="M144.4,428.2 v2.2 M148,428.2 v2.2" stroke-width="0.8"/><path d="M141,435.8 h3.6 M143.3,434.3 l1.5,1.5 l-1.5,1.5"/></g>
<text x="850.4" y="436.01" font-size="6.8" font-weight="bold" fill="#2a2e39" text-anchor="end" textLength="40.5" lengthAdjust="spacingAndGlyphs" >07:05:31 UTC</text>
<line x1="855.4" x2="855.4" y1="428.5" y2="439" stroke="#e0e3eb" stroke-width="0.7"/>
<text x="866.4" y="436.01" font-size="6.8" font-weight="bold" fill="#2a2e39" text-anchor="middle" textLength="11.8" lengthAdjust="spacingAndGlyphs" >ADJ</text>
<rect x="0" y="443.2" width="878" height="2.6" fill="#e9eaee"/>
<text x="8.75" y="456.26" font-size="7.2" font-weight="bold" fill="#2a2e39" text-anchor="start" textLength="32.5" lengthAdjust="spacingAndGlyphs" >Pine Editor</text>
<text x="57.5" y="456.26" font-size="7.2" font-weight="bold" fill="#2a2e39" text-anchor="start" textLength="39.5" lengthAdjust="spacingAndGlyphs" >Trading Panel</text>
<path d="M847.2,454.2 l3.3,-3 l3.3,3" fill="none" stroke="#131722" stroke-width="0.8"/>
<g fill="none" stroke="#131722" stroke-width="0.7"><path d="M864,451.2 v-0.6 a1,1 0 0 1 1,-1 h6 a1,1 0 0 1 1,1 v0.6 M864,454.2 v0.8 a1,1 0 0 0 1,1 h6 a1,1 0 0 0 1,-1 v-0.8"/></g>
</g>
<g id="right">
<rect x="876.8" y="19.5" width="2" height="443.5" fill="#e6e7eb"/>
<g fill="none" stroke="#131722" stroke-width="0.75" stroke-linejoin="round">
<path d="M885.2,26 h9 v11.2 l-4.5,-2.4 l-4.5,2.4 z"/><path d="M887.2,28.6 h5 M887.2,30.6 h5 M887.2,32.6 h5" stroke-width="0.6"/>
<circle cx="889.6" cy="53.5" r="5"/><path d="M889.6,50.4 v3.3 h-2.2"/><path d="M884.6,49.4 l2,-1.9 M892.6,47.5 l2,1.9"/>
<path d="M889.6,70.9 l5.5,2.9 l-5.5,2.9 l-5.5,-2.9 z"/><path d="M884.1,76.8 l5.5,2.9 l5.5,-2.9"/>
<path d="M885,92.6 h7 a0.8,0.8 0 0 1 0.8,0.8 v6.2 h-5.6 l-2.2,2 z"/><path d="M892.8,95 h1.6 a0.8,0.8 0 0 1 0.8,0.8 v8 l-2.2,-2 h-3.4"/>
<circle cx="889.6" cy="334.8" r="5"/><circle cx="889.6" cy="334.8" r="2.6"/><path d="M889.6,334.8 l3.6,-3.6"/>
<rect x="884.8" y="351.8" width="9.6" height="9" rx="1.2"/><path d="M884.8,354.8 h9.6 M887.2,350.2 v2.4 M892,350.2 v2.4"/>
<path d="M885.6,373.6 a9,9 0 0 1 9,9 M885.6,376.6 a6,6 0 0 1 6,6 M885.6,379.6 a3,3 0 0 1 3,3"/><circle cx="886" cy="382.4" r="0.5" fill="#131722"/>
<path d="M885.2,404.6 h8.8 l-1.2,-1.8 v-3 a3.2,3.2 0 0 0 -6.4,0 v3 z"/><path d="M888.2,406 a1.4,1.2 0 0 0 2.8,0"/>
</g>
<circle cx="889.6" cy="423.3" r="7.4" fill="#131722"/>
<rect x="886.20" y="419.90" width="1.6" height="1.6" rx="0.4" fill="#fff"/>
<rect x="886.20" y="422.50" width="1.6" height="1.6" rx="0.4" fill="#fff"/>
<rect x="886.20" y="425.10" width="1.6" height="1.6" rx="0.4" fill="#fff"/>
<rect x="888.80" y="419.90" width="1.6" height="1.6" rx="0.4" fill="#fff"/>
<rect x="888.80" y="422.50" width="1.6" height="1.6" rx="0.4" fill="#fff"/>
<rect x="888.80" y="425.10" width="1.6" height="1.6" rx="0.4" fill="#fff"/>
<rect x="891.40" y="419.90" width="1.6" height="1.6" rx="0.4" fill="#fff"/>
<rect x="891.40" y="422.50" width="1.6" height="1.6" rx="0.4" fill="#fff"/>
<rect x="891.40" y="425.10" width="1.6" height="1.6" rx="0.4" fill="#fff"/>
<circle cx="889.6" cy="451.6" r="6.4" fill="none" stroke="#131722" stroke-width="0.75"/>
<text x="889.6" y="454.78" font-size="8.4" font-weight="normal" fill="#131722" text-anchor="middle" >?</text>
</g>
</svg>
</body></html>
